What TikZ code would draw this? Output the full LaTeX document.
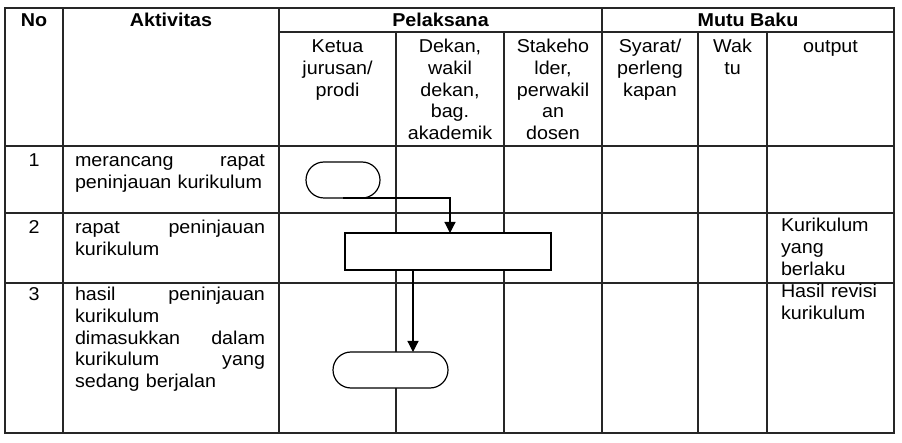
\documentclass[tikz,border=0pt]{standalone}
\usepackage{fontspec}
\setmainfont[FakeStretch=1.06]{Liberation Sans}
\usetikzlibrary{arrows.meta}
\begin{document}
\begin{tikzpicture}[x=1pt,y=-1pt,
  every node/.style={inner sep=0pt,outer sep=0pt,font=\fontsize{18.6}{21.6}\selectfont},
  grid/.style={line width=1.5pt,black!85},
  hd/.style={anchor=base,font=\fontsize{18.6}{21.6}\selectfont\bfseries},
  sub/.style={anchor=base,align=center},
  rowtxt/.style={anchor=base west,text width=190pt,align=left},
  outtxt/.style={anchor=base west,text width=110pt,align=left},
  term/.style={draw,fill=white,line width=1.2pt,rounded corners=18pt,minimum height=36pt},
  procbox/.style={draw,fill=white,line width=1.2pt,minimum height=37pt},
  arr/.style={line width=1.2pt,-{Triangle[length=11pt,width=11pt]}}]
\useasboundingbox (0,0) rectangle (902,443);
% table grid
\draw[grid] (5,8) rectangle (894,433);
\draw[grid] (279,32) -- (894,32);
\draw[grid] (5,146) -- (894,146);
\draw[grid] (5,213) -- (894,213);
\draw[grid] (5,283) -- (894,283);
\draw[grid] (63,8) -- (63,433);
\draw[grid] (279,8) -- (279,433);
\draw[grid] (602,8) -- (602,433);
\foreach \x in {396,504,698,767} \draw[grid] (\x,32) -- (\x,433);
% headers
\node[hd] (hno) at (34,27) {No};
\node[hd] (hakt) at (171,27) {Aktivitas};
\node[hd] (hpel) at (440.5,27) {Pelaksana};
\node[hd] (hmutu) at (748,27) {Mutu Baku};
\node[sub,text width=117pt] (sketua) at (337.5,53) {Ketua\\jurusan/\\prodi};
\node[sub,text width=108pt] (sdekan) at (450,53) {Dekan,\\wakil\\dekan,\\bag.\\akademik};
\node[sub,text width=98pt] (sstake) at (553,53) {Stakeho\\lder,\\perwakil\\an\\dosen};
\node[sub,text width=96pt] (ssyarat) at (650,53) {Syarat/\\perleng\\kapan};
\node[sub,text width=69pt] (swaktu) at (732.5,53) {Wak\\tu};
\node[sub,text width=127pt] (soutput) at (830.5,53) {output};
% rows
\node[anchor=base] (n1) at (34,167) {1};
\node[anchor=base] (n2) at (34,234) {2};
\node[anchor=base] (n3) at (34,301) {3};
\node[rowtxt] (a1) at (75,167) {merancang\hfill rapat\\peninjauan kurikulum};
\node[rowtxt] (a2) at (75,234) {rapat\hfill peninjauan\\kurikulum};
\node[rowtxt] (a3) at (75,301) {hasil\hfill peninjauan\\kurikulum\\dimasukkan\hfill dalam\\kurikulum\hfill yang\\sedang berjalan};
\node[outtxt] (o2) at (781,232) {Kurikulum\\yang\\berlaku};
\node[outtxt] (o3) at (781,298) {Hasil revisi\\kurikulum};
% flow shapes
\node[term,minimum width=74pt] (t1) at (343,180) {};
\node[procbox,minimum width=206pt] (r) at (448,251.5) {};
\node[term,minimum width=115pt] (t2) at (390.5,370) {};
\coordinate (c1) at (450,0);
\coordinate (c2) at (413,0);
\draw[arr] (t1.south) -| (r.north -| c1);
\draw[arr] (r.south -| c2) -- (t2.north -| c2);
\end{tikzpicture}
\end{document}
